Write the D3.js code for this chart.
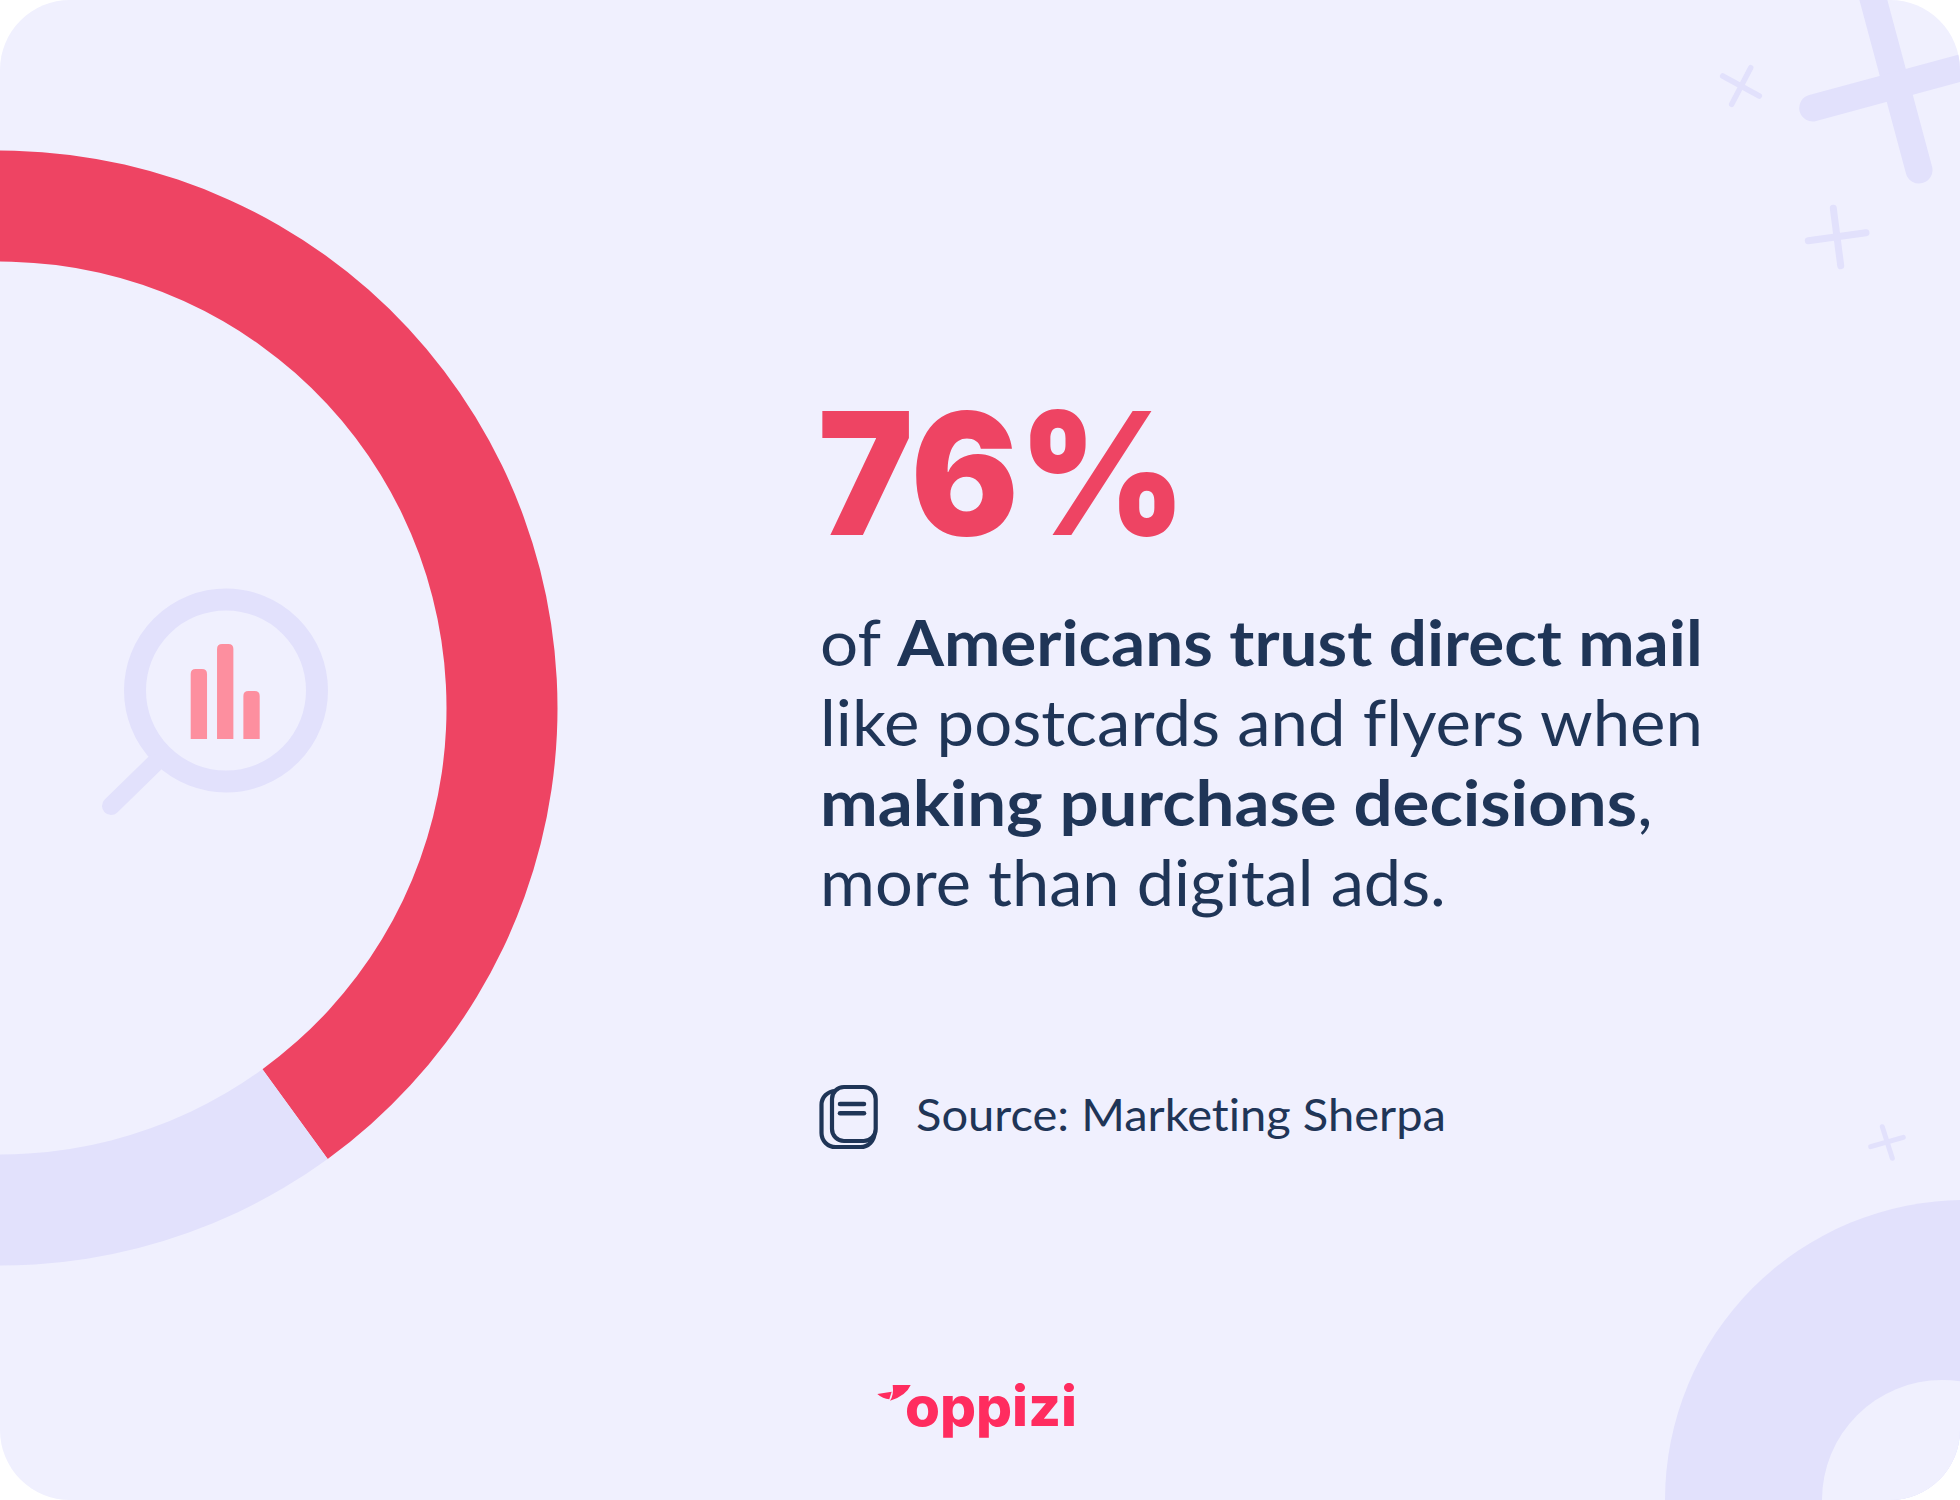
<!DOCTYPE html>
<html>
<head>
<meta charset="utf-8">
<script src="https://cdn.jsdelivr.net/npm/d3@7"></script>
<style>
  html, body { margin: 0; padding: 0; background: #fff; }
  svg { display: block; }
  text { font-family: Lato, "Open Sans", sans-serif; font-variant-ligatures: none; }
</style>
</head>
<body>
<div id="chart"></div>
<script>
// data
var shareLabels = ['trust direct mail', 'other']
var shareValues = [76, 24]
var headline = '76%'
var iconBarNames = ['a', 'b', 'c']
var iconBarValues = [70, 95, 48]
var bodyLines = [
  [['of ', 0], ['Americans trust direct mail', 1]],
  [['like postcards and flyers when', 0]],
  [['making purchase decisions', 1], [',', 0]],
  [['more than digital ads.', 0]]
]
var sourceText = 'Source: Marketing Sherpa'
var logoText = 'oppizi'

// colours
var BG = '#f0f0fe', LAV = '#e2e1fc', RED = '#ee4463', PINK = '#fd8f9f', NAVY = '#1f3557', LOGO = '#ff2c5f'
var width = 1960, height = 1500

var svg = d3.select('#chart').append('svg').attr('width', width).attr('height', height)

svg.append('clipPath').attr('id', 'card')
  .append('rect').attr('width', width).attr('height', height).attr('rx', 70)

var g = svg.append('g').attr('clip-path', 'url(#card)')
g.append('rect').attr('width', width).attr('height', height).attr('fill', BG)

// donut, centre sits on the left edge, the red part ends at 144deg
var endRed = 144 * Math.PI / 180
var pie = d3.pie().sort(null).startAngle(endRed - 0.76 * 2 * Math.PI).endAngle(endRed + 0.24 * 2 * Math.PI)
var arc = d3.arc().innerRadius(446.5).outerRadius(557.5)
g.append('g').attr('transform', 'translate(0,708)')
  .selectAll('path')
  .data(pie(shareValues))
  .enter()
  .append('path')
  .attr('d', arc)
  .attr('fill', function (d, i) { return i == 0 ? RED : LAV })
  .append('title').text(function (d, i) { return shareLabels[i] })

// magnifier
g.append('circle').attr('cx', 226).attr('cy', 690.5).attr('r', 91)
  .attr('fill', 'none').attr('stroke', LAV).attr('stroke-width', 22)
g.append('line').attr('x1', 111).attr('y1', 806).attr('x2', 155).attr('y2', 763)
  .attr('stroke', LAV).attr('stroke-width', 18).attr('stroke-linecap', 'round')

// small bars inside the magnifier
var xBar = d3.scaleBand().domain(iconBarNames).range([190.7, 259.7]).paddingInner(0.38)
var yBar = d3.scaleLinear().domain([0, 95]).range([739, 644])
g.selectAll('.bar')
  .data(iconBarValues)
  .enter()
  .append('path')
  .attr('class', 'bar')
  .attr('fill', PINK)
  .attr('d', function (d, i) {
    var x = xBar(iconBarNames[i]), w = xBar.bandwidth(), y = yBar(d), r = 5
    return 'M' + x + ',' + yBar(0) + 'V' + (y + r) + 'Q' + x + ',' + y + ' ' + (x + r) + ',' + y +
      'H' + (x + w - r) + 'Q' + (x + w) + ',' + y + ' ' + (x + w) + ',' + (y + r) + 'V' + yBar(0) + 'Z'
  })

// decoration, crosses and the ring in the corner
function cross(a, b, sw) {
  [a, b].forEach(function (p) {
    g.append('line').attr('x1', p[0]).attr('y1', p[1]).attr('x2', p[2]).attr('y2', p[3])
      .attr('stroke', LAV).attr('stroke-width', sw).attr('stroke-linecap', 'round')
  })
}
cross([1868, -20, 1919, 170], [1812.7, 108, 1990, 60], 27)
cross([1722.7, 76, 1759.3, 96], [1750.7, 67.7, 1731.7, 104.3], 5.5)
cross([1833.3, 208.3, 1840.7, 265.7], [1808.3, 240.7, 1866, 232.7], 7)
cross([1882.3, 1126.7, 1892.3, 1158.3], [1870.7, 1146.7, 1903.3, 1137.3], 5)

g.append('circle').attr('cx', 1965).attr('cy', 1500).attr('r', 300).attr('fill', LAV)
g.append('circle').attr('cx', 1942).attr('cy', 1500).attr('r', 120).attr('fill', BG)

// stretch a text to the width it has in the picture, Lato is a bit narrower
function fit(t, x, y, w) {
  var s = w / t.node().getComputedTextLength()
  t.attr('transform', 'translate(' + x + ',' + y + ') scale(' + s + ',1)')
}

// headline
g.append('text').attr('x', 818).attr('y', 535)
  .attr('font-size', 170).attr('font-weight', 900).attr('fill', RED)
  .style('font-family', 'Inter')
  .attr('textLength', 368).attr('lengthAdjust', 'spacingAndGlyphs')
  .text(headline)

// body text
var baselines = [666, 746, 826, 906]
var lineWidths = [883, 883, 833, 626]
bodyLines.forEach(function (line, i) {
  var t = g.append('text').attr('font-size', 64).attr('fill', NAVY)
  line.forEach(function (part) {
    t.append('tspan').attr('font-weight', part[1] ? 700 : 400).text(part[0])
  })
  fit(t, 820, baselines[i], lineWidths[i])
})

// source
var ic = g.append('g').attr('fill', 'none').attr('stroke', NAVY)
ic.append('rect').attr('x', 821.5).attr('y', 1091).attr('width', 53).attr('height', 56).attr('rx', 14).attr('stroke-width', 4.2)
ic.append('rect').attr('x', 832).attr('y', 1087).attr('width', 43.7).attr('height', 54).attr('rx', 12).attr('stroke-width', 4.2).attr('fill', BG)
ic.append('line').attr('x1', 840).attr('x2', 864).attr('y1', 1104).attr('y2', 1104).attr('stroke-width', 4.5).attr('stroke-linecap', 'round')
ic.append('line').attr('x1', 840).attr('x2', 864).attr('y1', 1113.3).attr('y2', 1113.3).attr('stroke-width', 4.5).attr('stroke-linecap', 'round')

var src = g.append('text').attr('font-size', 44).attr('fill', NAVY).text(sourceText)
fit(src, 916, 1131, 530)

// logo
g.append('path').attr('fill', LOGO).attr('d', 'M892.7,1385H910.7Q906,1396 890,1400.7Q894,1395 892.7,1385ZM877.3,1394L891.7,1391.7L889.3,1399.3Q883,1399 877.3,1394Z')
g.append('text').attr('x', 905).attr('y', 1426)
  .attr('font-size', 55).attr('font-weight', 800).attr('fill', LOGO)
  .style('font-family', 'Inter')
  .attr('textLength', 172).attr('lengthAdjust', 'spacingAndGlyphs')
  .text(logoText)
</script>
</body>
</html>
